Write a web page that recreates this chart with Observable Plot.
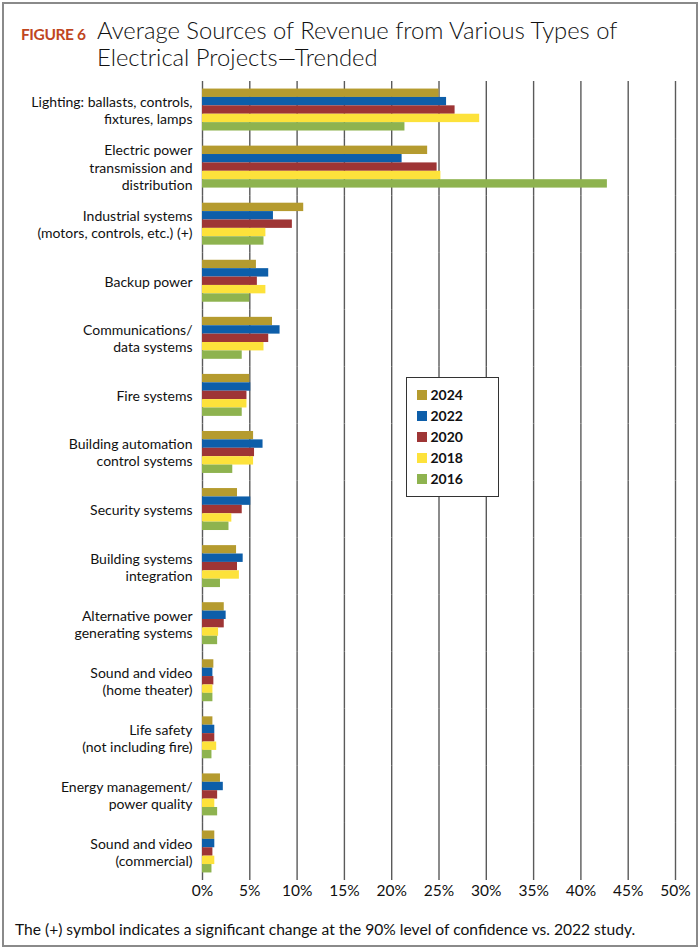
<!DOCTYPE html>
<html>
<head>
<meta charset="utf-8">
<script src="https://cdn.jsdelivr.net/npm/d3@7"></script>
<script src="https://cdn.jsdelivr.net/npm/@observablehq/plot@0.6"></script>
<style>
  html, body { margin: 0; padding: 0; background: #fff; }
  #page { position: relative; width: 700px; height: 952px; font-family: Lato, "Open Sans", sans-serif; color: #1a1a1a; }
  #frame { position: absolute; left: 2px; top: 2px; width: 692px; height: 941px; border: 2px solid #8a8a8a; }
  #fig { position: absolute; left: 21px; top: 25px; font-size: 15.5px; font-weight: 700; color: #c0461f; letter-spacing: -0.4px; }
  #title { position: absolute; left: 97px; top: 17px; font-size: 23.8px; font-weight: 300; line-height: 27px; color: #111; width: 580px; }
  #chart { position: absolute; left: 0; top: 78px; }
  #legend { position: absolute; left: 406px; top: 377px; width: 93px; height: 120px; box-sizing: border-box; border: 1.5px solid #333; background: #fff; padding: 6px 0 0 9.5px; z-index: 2; }
  .item { display: flex; align-items: center; height: 21.1px; font-size: 14px; font-weight: 700; color: #111; }
  .sw { width: 10px; height: 10px; margin-right: 4px; }
  #note { position: absolute; left: 15px; top: 920px; font-size: 15.6px; line-height: 19px; color: #111; }
</style>
</head>
<body>
<div id="page">
  <div id="frame"></div>
  <div id="fig">FIGURE 6</div>
  <div id="title">Average Sources of Revenue from Various Types of Electrical Projects—Trended</div>
  <div id="chart"></div>
  <div id="legend"></div>
  <div id="note">The (+) symbol indicates a significant change at the 90% level of confidence vs. 2022 study.</div>
</div>
<script>
const categories = [
  "Lighting", "Electric power", "Industrial systems", "Backup power", "Communications",
  "Fire systems", "Building automation", "Security systems", "Building systems integration",
  "Alternative power", "Sound and video home", "Life safety", "Energy management", "Sound and video commercial"
];
const categoryLabels = [
  "Lighting: ballasts, controls,\nfixtures, lamps",
  "Electric power\ntransmission and\ndistribution",
  "Industrial systems\n(motors, controls, etc.) (+)",
  "Backup power",
  "Communications/\ndata systems",
  "Fire systems",
  "Building automation\ncontrol systems",
  "Security systems",
  "Building systems\nintegration",
  "Alternative power\ngenerating systems",
  "Sound and video\n(home theater)",
  "Life safety\n(not including fire)",
  "Energy management/\npower quality",
  "Sound and video\n(commercial)"
];
const years = ["2024", "2022", "2020", "2018", "2016"];
const yearColors = ["#b59b2f", "#0d5ea9", "#9e3535", "#fde23b", "#8eb34f"];
const v2024 = [25.0, 23.8, 10.7, 5.7, 7.4, 5.0, 5.4, 3.7, 3.6, 2.3, 1.2, 1.1, 1.9, 1.3];
const v2022 = [25.8, 21.1, 7.5, 7.0, 8.2, 5.1, 6.4, 5.1, 4.3, 2.5, 1.1, 1.3, 2.2, 1.3];
const v2020 = [26.7, 24.8, 9.5, 5.8, 7.0, 4.7, 5.5, 4.2, 3.7, 2.3, 1.2, 1.3, 1.6, 1.1];
const v2018 = [29.3, 25.2, 6.7, 6.7, 6.5, 4.7, 5.4, 3.1, 3.9, 1.7, 1.1, 1.5, 1.3, 1.3];
const v2016 = [21.4, 42.8, 6.5, 5.0, 4.2, 4.2, 3.2, 2.8, 1.9, 1.6, 1.1, 1.0, 1.6, 1.0];
const xTicks = [0, 5, 10, 15, 20, 25, 30, 35, 40, 45, 50];

const series = [v2024, v2022, v2020, v2018, v2016];
const data = [];
categories.forEach((c, i) => years.forEach((y, j) => data.push({category: c, year: y, value: series[j][i]})));
const labelOf = new Map(categories.map((c, i) => [c, categoryLabels[i]]));

const chart = Plot.plot({
  width: 700,
  height: 827,
  marginLeft: 202,
  marginRight: 25,
  marginTop: 3,
  marginBottom: 25,
  style: {fontFamily: "Lato, 'Open Sans', sans-serif", color: "#111", background: "transparent"},
  x: {domain: [0, 50]},
  fy: {domain: categories, padding: 0, round: false},
  y: {domain: years, paddingInner: 0, paddingOuter: 0.9, round: false, axis: null},
  color: {domain: years, range: yearColors},
  marks: [
    Plot.ruleX(xTicks, {stroke: "#5a5a5a", strokeWidth: 1.4}),
    Plot.barX(data, {x: "value", y: "year", fy: "category", fill: "year", inset: 0}),
    Plot.axisFy({anchor: "left", tickSize: 0, tickPadding: 10, fontSize: 14, lineHeight: 1.22, label: null, tickFormat: d => labelOf.get(d)}),
    Plot.axisX(xTicks, {anchor: "bottom", tickSize: 0, tickPadding: 4, fontSize: 15.5, label: null, tickFormat: d => d + "%"})
  ]
});
document.getElementById("chart").appendChild(chart);

const legend = document.getElementById("legend");
years.forEach((y, i) => {
  const item = document.createElement("div");
  item.className = "item";
  const sw = document.createElement("span");
  sw.className = "sw";
  sw.style.background = yearColors[i];
  item.appendChild(sw);
  item.appendChild(document.createTextNode(y));
  legend.appendChild(item);
});
</script>
</body>
</html>
